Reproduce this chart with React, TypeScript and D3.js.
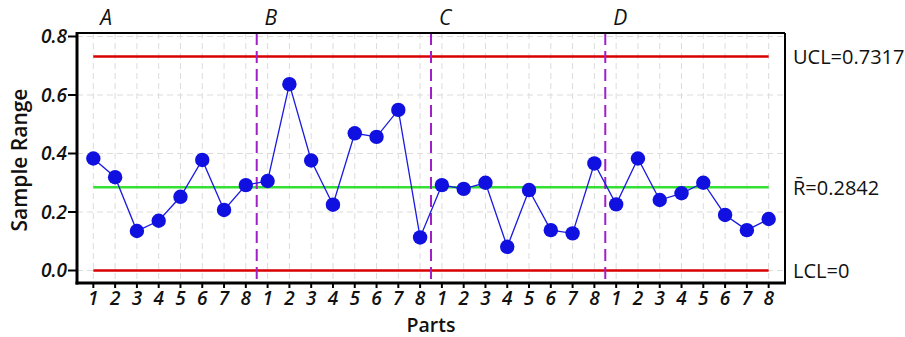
import React from "react";
import * as d3 from "d3";

const groups = ["A", "B", "C", "D"];
const partLabels = ["1", "2", "3", "4", "5", "6", "7", "8"];
const rangeA = [0.383, 0.319, 0.135, 0.170, 0.252, 0.378, 0.207, 0.292];
const rangeB = [0.306, 0.637, 0.376, 0.225, 0.469, 0.457, 0.549, 0.113];
const rangeC = [0.292, 0.279, 0.300, 0.081, 0.275, 0.138, 0.127, 0.366];
const rangeD = [0.226, 0.383, 0.241, 0.264, 0.300, 0.190, 0.138, 0.176];
const yTicks = [0.0, 0.2, 0.4, 0.6, 0.8];
const UCL = 0.7317;
const RBAR = 0.2842;
const LCL = 0;

const W = 905;
const H = 337;
const FONT = "'Open Sans', 'Noto Sans', sans-serif";

export default function App() {
  const values = [...rangeA, ...rangeB, ...rangeC, ...rangeD];
  const n = values.length;
  const left = 77, right = 785, top = 33, bottom = 283;
  const x = d3.scaleLinear().domain([-0.75, n - 0.25]).range([left, right]);
  const y = d3.scaleLinear().domain([0, 0.8]).range([270.5, 36.5]);
  const idx = d3.range(n);
  const line = d3.line<number>().x((_, i) => x(i)).y((d) => y(d));
  const x0 = x(0), x1 = x(n - 1);

  return (
    <svg width={W} height={H} style={{ position: "absolute", left: 0, top: 0, background: "#fff" }}>
      <rect x={0} y={0} width={W} height={H} fill="#fff" />
      {yTicks.map((t) => (
        <line key={"gy" + t} x1={left} x2={right} y1={y(t)} y2={y(t)} stroke="#dcdcdc" strokeWidth={1} strokeDasharray="6,4" />
      ))}
      {idx.map((i) => (
        <line key={"gx" + i} x1={x(i)} x2={x(i)} y1={top} y2={bottom} stroke="#dcdcdc" strokeWidth={1} strokeDasharray="6,4" />
      ))}
      <line x1={x0} x2={x1} y1={y(UCL)} y2={y(UCL)} stroke="#d90000" strokeWidth={2.5} />
      <line x1={x0} x2={x1} y1={y(LCL)} y2={y(LCL)} stroke="#d90000" strokeWidth={2.5} />
      <line x1={x0} x2={x1} y1={y(RBAR)} y2={y(RBAR)} stroke="#33e033" strokeWidth={2.5} />
      {groups.slice(1).map((g, k) => (
        <line key={"dv" + g} x1={x((k + 1) * 8 - 0.5)} x2={x((k + 1) * 8 - 0.5)} y1={top} y2={bottom}
          stroke="#a020c8" strokeWidth={2} strokeDasharray="12,6" />
      ))}
      <path d={line(values) || ""} fill="none" stroke="#1a1ae0" strokeWidth={1.3} />
      {values.map((v, i) => (
        <circle key={"p" + i} cx={x(i)} cy={y(v)} r={7.2} fill="#1010e0" />
      ))}
      <line x1={left} x2={right} y1={top} y2={top} stroke="#000" strokeWidth={2} />
      <line x1={right} x2={right} y1={top} y2={bottom} stroke="#000" strokeWidth={2} />
      <line x1={left} x2={left} y1={top - 1} y2={bottom + 1.5} stroke="#000" strokeWidth={3} />
      <line x1={left - 1.5} x2={right + 1} y1={bottom} y2={bottom} stroke="#000" strokeWidth={3} />
      {yTicks.map((t) => (
        <g key={"yt" + t}>
          <line x1={left - 9} x2={left} y1={y(t)} y2={y(t)} stroke="#000" strokeWidth={2} />
          <text x={left - 10} y={y(t)} dy="0.36em" textAnchor="end" fontFamily={FONT} fontSize={19}
            fontStyle="italic" fontWeight={600} fill="#111">{d3.format(".1f")(t)}</text>
        </g>
      ))}
      {idx.map((i) => (
        <g key={"xt" + i}>
          <line x1={x(i)} x2={x(i)} y1={bottom} y2={bottom + 5} stroke="#000" strokeWidth={2} />
          <text x={x(i)} y={304.5} textAnchor="middle" fontFamily={FONT} fontSize={19}
            fontStyle="italic" fontWeight={600} fill="#111">{partLabels[i % 8]}</text>
        </g>
      ))}
      {groups.map((g, k) => (
        <text key={"gl" + g} x={x(k * 8) + (k === 0 ? 7 : 0)} y={25} fontFamily={FONT} fontSize={21}
          fontStyle="italic" fill="#111" dx={k === 0 ? 0 : -3}>{g}</text>
      ))}
      <text x={793} y={y(UCL)} dy="0.36em" fontFamily={FONT} fontSize={20} fill="#111">UCL=0.7317</text>
      <text x={793} y={y(RBAR)} dy="0.36em" fontFamily={FONT} fontSize={20} fill="#111">R̄=0.2842</text>
      <text x={793} y={y(LCL)} dy="0.36em" fontFamily={FONT} fontSize={20} fill="#111">LCL=0</text>
      <text x={431} y={332} textAnchor="middle" fontFamily={FONT} fontSize={19.5} fontWeight={600} fill="#111">Parts</text>
      <text transform={`translate(27,160) rotate(-90)`} textAnchor="middle" fontFamily={FONT} fontSize={21}
        fontWeight={600} fill="#111">Sample Range</text>
    </svg>
  );
}
